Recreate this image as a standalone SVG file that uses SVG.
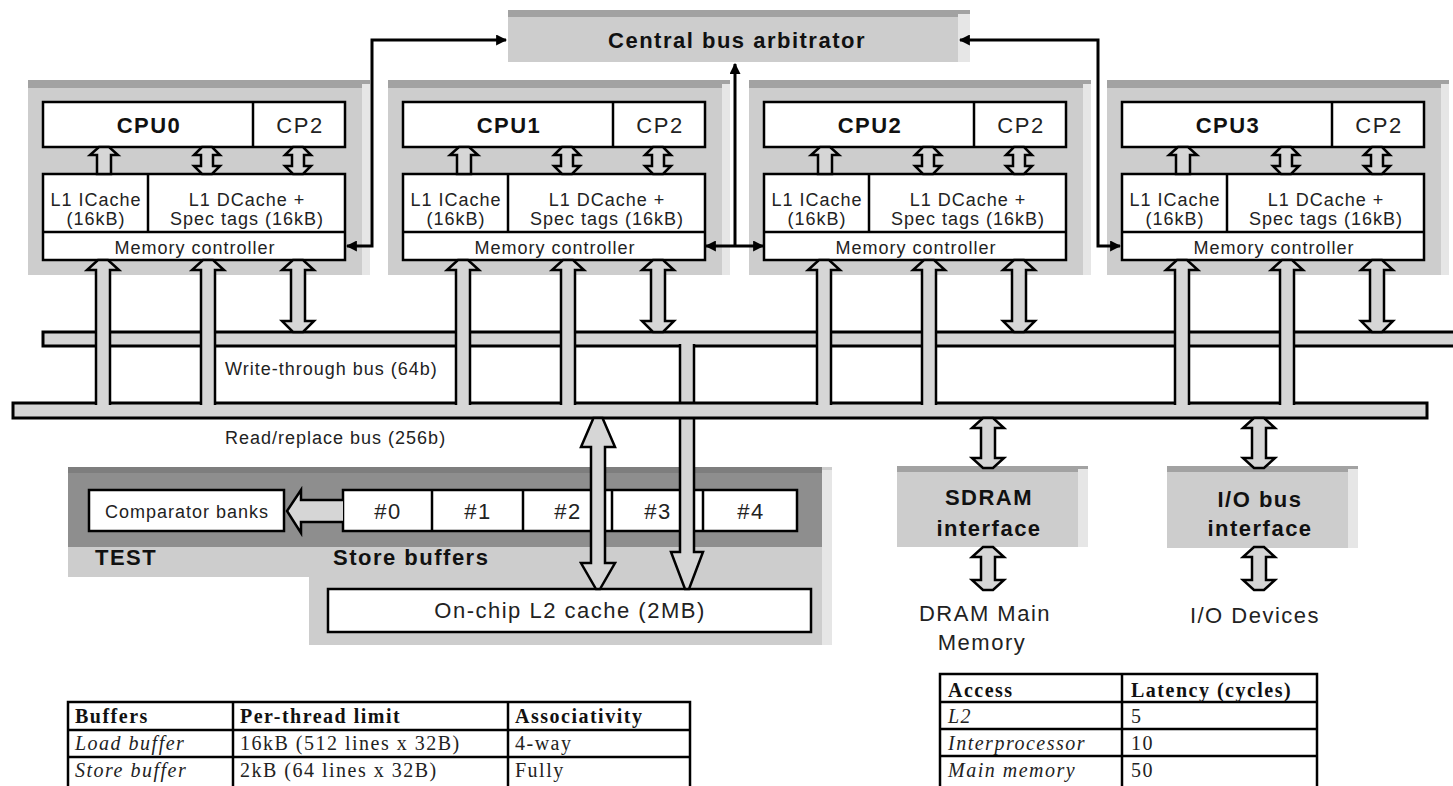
<svg xmlns="http://www.w3.org/2000/svg" xmlns:xlink="http://www.w3.org/1999/xlink" width="1453" height="786" viewBox="0 0 1453 786">
<style>
.g{fill:#cdcdcd}
.top{fill:#a2a2a2}
.edge{fill:#e6e6e6}
.dark{fill:#8e8e8e}
.w{fill:#fff;stroke:#000;stroke-width:2.5}
.ln{stroke:#000;stroke-width:2.5;fill:none}
.pipe{fill:#d6d6d6;stroke:#000;stroke-width:2.5;stroke-linejoin:miter}
.bus{fill:#d6d6d6;stroke:#000;stroke-width:3}
.con{fill:none;stroke:#000;stroke-width:3}
.b22{font-family:"Liberation Sans",Arial,sans-serif;font-weight:bold;font-size:22px;letter-spacing:1.5px;fill:#111}
.r22{font-family:"Liberation Sans",Arial,sans-serif;font-size:22px;letter-spacing:1.5px;fill:#222}
.r18{font-family:"Liberation Sans",Arial,sans-serif;font-size:18px;letter-spacing:1px;fill:#222}
.tb{font-family:"Liberation Serif","Times New Roman",serif;font-weight:bold;font-size:20px;letter-spacing:1.5px;fill:#111}
.tr{font-family:"Liberation Serif","Times New Roman",serif;font-size:20px;letter-spacing:1.5px;fill:#222}
.ti{font-family:"Liberation Serif","Times New Roman",serif;font-style:italic;font-size:20px;letter-spacing:1.5px;fill:#222}
.m{text-anchor:middle}
.tbl{fill:#fff;stroke:#000;stroke-width:2.5}
</style>
<defs>
<marker id="ah" viewBox="0 0 10 10" refX="9" refY="5" markerWidth="11" markerHeight="11" markerUnits="userSpaceOnUse" orient="auto-start-reverse"><path d="M0,0 L10,5 L0,10 Z" fill="#000"/></marker>
<path id="iu" class="pipe" d="M-5,0 L5,0 L14,8 L7,8 L7,27 L-7,27 L-7,8 L-14,8 Z"/>
<path id="id" class="pipe" d="M-5,0 L5,0 L13,8 L6,8 L6,19 L13,19 L5,27 L-5,27 L-13,19 L-6,19 L-6,8 L-13,8 Z"/>
<path id="pu" class="pipe" d="M-7,145 L-7,10 L-16,10 L-5,0 L5,0 L16,10 L7,10 L7,145"/>
<path id="pd" class="pipe" d="M-5,0 L5,0 L16,10 L7,10 L7,61 L16,61 L5,72 L-5,72 L-16,61 L-7,61 L-7,10 L-16,10 Z"/>
</defs>
<rect width="1453" height="786" fill="#fff"/>

<g id="arbiter">
<rect class="g" x="508" y="10" width="462" height="52"/>
<rect class="top" x="508" y="10" width="462" height="7"/>
<rect class="edge" x="958" y="14" width="12" height="48"/>
<text class="b22 m" x="737" y="48">Central bus arbitrator</text>
</g>

<g id="cpu0">
<rect class="g" x="28" y="80" width="342" height="195"/>
<rect class="top" x="28" y="80" width="342" height="8"/>
<rect class="edge" x="362" y="84" width="8" height="191"/>
<rect class="w" x="43" y="102" width="302" height="45"/>
<line class="ln" x1="253" y1="102" x2="253" y2="147"/>
<rect class="w" x="43" y="174" width="302" height="86"/>
<line class="ln" x1="43" y1="232" x2="345" y2="232"/>
<line class="ln" x1="148" y1="174" x2="148" y2="232"/>
<text class="b22 m" x="149" y="133">CPU0</text>
<text class="r22 m" x="300" y="133">CP2</text>
<text class="r18 m" x="96" y="206">L1 ICache</text>
<text class="r18 m" x="96" y="225">(16kB)</text>
<text class="r18 m" x="247" y="206">L1 DCache +</text>
<text class="r18 m" x="247" y="225">Spec tags (16kB)</text>
<text class="r18 m" x="195" y="254">Memory controller</text>
<use href="#iu" x="104" y="147"/>
<use href="#id" x="207" y="147"/>
<use href="#id" x="298" y="147"/>
</g>

<g id="cpu1" transform="translate(360,0)">
<rect class="g" x="28" y="80" width="342" height="195"/>
<rect class="top" x="28" y="80" width="342" height="8"/>
<rect class="edge" x="362" y="84" width="8" height="191"/>
<rect class="w" x="43" y="102" width="302" height="45"/>
<line class="ln" x1="253" y1="102" x2="253" y2="147"/>
<rect class="w" x="43" y="174" width="302" height="86"/>
<line class="ln" x1="43" y1="232" x2="345" y2="232"/>
<line class="ln" x1="148" y1="174" x2="148" y2="232"/>
<text class="b22 m" x="149" y="133">CPU1</text>
<text class="r22 m" x="300" y="133">CP2</text>
<text class="r18 m" x="96" y="206">L1 ICache</text>
<text class="r18 m" x="96" y="225">(16kB)</text>
<text class="r18 m" x="247" y="206">L1 DCache +</text>
<text class="r18 m" x="247" y="225">Spec tags (16kB)</text>
<text class="r18 m" x="195" y="254">Memory controller</text>
<use href="#iu" x="104" y="147"/>
<use href="#id" x="207" y="147"/>
<use href="#id" x="298" y="147"/>
</g>

<g id="cpu2" transform="translate(721,0)">
<rect class="g" x="28" y="80" width="342" height="195"/>
<rect class="top" x="28" y="80" width="342" height="8"/>
<rect class="edge" x="362" y="84" width="8" height="191"/>
<rect class="w" x="43" y="102" width="302" height="45"/>
<line class="ln" x1="253" y1="102" x2="253" y2="147"/>
<rect class="w" x="43" y="174" width="302" height="86"/>
<line class="ln" x1="43" y1="232" x2="345" y2="232"/>
<line class="ln" x1="148" y1="174" x2="148" y2="232"/>
<text class="b22 m" x="149" y="133">CPU2</text>
<text class="r22 m" x="300" y="133">CP2</text>
<text class="r18 m" x="96" y="206">L1 ICache</text>
<text class="r18 m" x="96" y="225">(16kB)</text>
<text class="r18 m" x="247" y="206">L1 DCache +</text>
<text class="r18 m" x="247" y="225">Spec tags (16kB)</text>
<text class="r18 m" x="195" y="254">Memory controller</text>
<use href="#iu" x="104" y="147"/>
<use href="#id" x="207" y="147"/>
<use href="#id" x="298" y="147"/>
</g>

<g id="cpu3" transform="translate(1079,0)">
<rect class="g" x="28" y="80" width="342" height="195"/>
<rect class="top" x="28" y="80" width="342" height="8"/>
<rect class="edge" x="362" y="84" width="8" height="191"/>
<rect class="w" x="43" y="102" width="302" height="45"/>
<line class="ln" x1="253" y1="102" x2="253" y2="147"/>
<rect class="w" x="43" y="174" width="302" height="86"/>
<line class="ln" x1="43" y1="232" x2="345" y2="232"/>
<line class="ln" x1="148" y1="174" x2="148" y2="232"/>
<text class="b22 m" x="149" y="133">CPU3</text>
<text class="r22 m" x="300" y="133">CP2</text>
<text class="r18 m" x="96" y="206">L1 ICache</text>
<text class="r18 m" x="96" y="225">(16kB)</text>
<text class="r18 m" x="247" y="206">L1 DCache +</text>
<text class="r18 m" x="247" y="225">Spec tags (16kB)</text>
<text class="r18 m" x="195" y="254">Memory controller</text>
<use href="#iu" x="104" y="147"/>
<use href="#id" x="207" y="147"/>
<use href="#id" x="298" y="147"/>
</g>

<g id="store-panel">
<rect class="g" x="68" y="467" width="242" height="110"/>
<rect class="g" x="309" y="467" width="523" height="178"/>
<rect class="edge" x="822" y="470" width="10" height="175"/>
<rect class="dark" x="68" y="467" width="754" height="80"/>
<rect fill="#7e7e7e" x="68" y="467" width="754" height="6"/>
<text class="b22" x="95" y="565">TEST</text>
<text class="b22" x="333" y="565">Store buffers</text>
</g>

<g id="comparator">
<rect class="w" x="89" y="490" width="195" height="41"/>
<text class="r18 m" x="187" y="518">Comparator banks</text>
</g>

<g id="store-buffers">
<rect class="w" x="343" y="490" width="454" height="41"/>
<line class="ln" x1="432" y1="490" x2="432" y2="531"/>
<line class="ln" x1="523" y1="490" x2="523" y2="531"/>
<line class="ln" x1="612" y1="490" x2="612" y2="531"/>
<line class="ln" x1="703" y1="490" x2="703" y2="531"/>
<text class="r22 m" x="388" y="519">#0</text>
<text class="r22 m" x="478" y="519">#1</text>
<text class="r22 m" x="568" y="519">#2</text>
<text class="r22 m" x="658" y="519">#3</text>
<text class="r22 m" x="751" y="519">#4</text>
</g>

<g id="l2-cache">
<rect class="w" x="328" y="589" width="483" height="43"/>
<text class="r22 m" x="570" y="618">On-chip L2 cache (2MB)</text>
</g>

<g id="sdram">
<rect class="g" x="897" y="466" width="191" height="81"/>
<rect class="top" x="897" y="466" width="191" height="6"/>
<rect class="edge" x="1078" y="469" width="10" height="78"/>
<text class="b22 m" x="989" y="505">SDRAM</text>
<text class="b22 m" x="989" y="536">interface</text>
</g>

<g id="io-bus">
<rect class="g" x="1167" y="466" width="191" height="82"/>
<rect class="top" x="1167" y="466" width="191" height="6"/>
<rect class="edge" x="1348" y="469" width="10" height="79"/>
<text class="b22 m" x="1260" y="507">I/O bus</text>
<text class="b22 m" x="1260" y="536">interface</text>
</g>

<g id="dram">
<text class="r22 m" x="985" y="621">DRAM Main</text>
<text class="r22 m" x="982" y="650">Memory</text>
</g>

<g id="io-devices">
<text class="r22 m" x="1255" y="623">I/O Devices</text>
</g>

<g id="buses">
<rect class="bus" x="43" y="332" width="1420" height="14"/>
<text class="r18" x="225" y="375">Write-through bus (64b)</text>
<path class="pipe" d="M680,344 L680,552 L671,552 L685,589 L689,589 L703,552 L694,552 L694,344"/>
<rect class="bus" x="13" y="403" width="1414" height="15"/>
<text class="r18" x="225" y="444">Read/replace bus (256b)</text>
</g>

<g id="connectors">
<path class="con" d="M347,246 H372 V40 H506" marker-start="url(#ah)" marker-end="url(#ah)"/>
<path class="con" d="M706,246 H763" marker-start="url(#ah)" marker-end="url(#ah)"/>
<path class="con" d="M735,246 V64" marker-end="url(#ah)"/>
<path class="con" d="M960,40 H1098 V246 H1120" marker-start="url(#ah)" marker-end="url(#ah)"/>
<path class="pipe" d="M343,500 L301,500 L301,490 L287,511 L301,533 L301,522 L343,522"/>
<path class="pipe" d="M593.5,418 L602.5,418 L615,447 L605,447 L605,563 L615,563 L600,589 L596,589 L581,563 L591,563 L591,447 L581,447 Z"/>
<use href="#pu" x="103" y="260"/>
<use href="#pu" x="208" y="260"/>
<use href="#pd" x="298" y="260"/>
<use href="#pu" x="463" y="260"/>
<use href="#pu" x="568" y="260"/>
<use href="#pd" x="658" y="260"/>
<use href="#pu" x="824" y="260"/>
<use href="#pu" x="929" y="260"/>
<use href="#pd" x="1019" y="260"/>
<use href="#pu" x="1182" y="260"/>
<use href="#pu" x="1287" y="260"/>
<use href="#pd" x="1377" y="260"/>
<path class="pipe" d="M983,418 L993,418 L1004,428 L995,428 L995,458 L1004,458 L993,468 L983,468 L972,458 L981,458 L981,428 L972,428 Z"/>
<path class="pipe" d="M983,547 L993,547 L1004,557 L995,557 L995,580 L1004,580 L993,590 L983,590 L972,580 L981,580 L981,557 L972,557 Z"/>
<path class="pipe" d="M1254,418 L1264,418 L1275,428 L1266,428 L1266,458 L1275,458 L1264,468 L1254,468 L1243,458 L1252,458 L1252,428 L1243,428 Z"/>
<path class="pipe" d="M1254,547 L1264,547 L1275,557 L1266,557 L1266,580 L1275,580 L1264,590 L1254,590 L1243,580 L1252,580 L1252,557 L1243,557 Z"/>
</g>

<g id="buffers-table">
<rect class="tbl" x="68" y="702" width="622" height="100"/>
<line class="ln" x1="68" y1="730" x2="690" y2="730"/>
<line class="ln" x1="68" y1="757" x2="690" y2="757"/>
<line class="ln" x1="233" y1="702" x2="233" y2="786"/>
<line class="ln" x1="508" y1="702" x2="508" y2="786"/>
<text class="tb" x="75" y="723">Buffers</text>
<text class="tb" x="240" y="723">Per-thread limit</text>
<text class="tb" x="515" y="723">Associativity</text>
<text class="ti" x="75" y="750">Load buffer</text>
<text class="tr" x="240" y="750">16kB (512 lines x 32B)</text>
<text class="tr" x="515" y="750">4-way</text>
<text class="ti" x="75" y="777">Store buffer</text>
<text class="tr" x="240" y="777">2kB (64 lines x 32B)</text>
<text class="tr" x="515" y="777">Fully</text>
</g>

<g id="latency-table">
<rect class="tbl" x="940" y="674" width="377" height="130"/>
<line class="ln" x1="940" y1="702" x2="1317" y2="702"/>
<line class="ln" x1="940" y1="729" x2="1317" y2="729"/>
<line class="ln" x1="940" y1="756" x2="1317" y2="756"/>
<line class="ln" x1="1122" y1="674" x2="1122" y2="786"/>
<text class="tb" x="948" y="697">Access</text>
<text class="tb" x="1131" y="697">Latency (cycles)</text>
<text class="ti" x="948" y="723">L2</text>
<text class="tr" x="1131" y="723">5</text>
<text class="ti" x="948" y="750">Interprocessor</text>
<text class="tr" x="1131" y="750">10</text>
<text class="ti" x="948" y="777">Main memory</text>
<text class="tr" x="1131" y="777">50</text>
</g>
</svg>
